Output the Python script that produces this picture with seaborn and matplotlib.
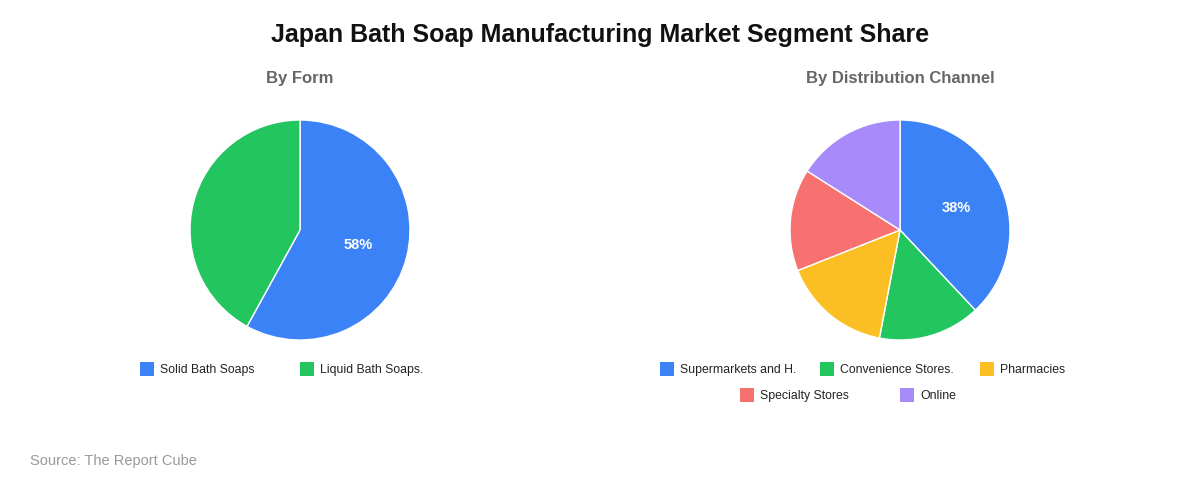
import matplotlib
matplotlib.use("Agg")
import matplotlib.pyplot as plt
import seaborn as sns
from matplotlib.patches import Rectangle

sns.set_theme(style="white")
plt.rcParams['font.family'] = ['Liberation Sans', 'DejaVu Sans']

# Data
form_labels = ["Solid Bath Soaps", "Liquid Bath Soaps."]
form_values = [58, 42]
channel_labels = ["Supermarkets and H.", "Convenience Stores.", "Pharmacies", "Specialty Stores", "Online"]
channel_values = [38, 15, 16, 15, 16]

colors = ["#3b82f6", "#22c55e", "#fbbf24", "#f87171", "#a78bfa"]

W, H = 1200, 480
fig = plt.figure(figsize=(12, 4.8), dpi=100)
fig.patch.set_facecolor("white")

def px(x, y):
    return x / W, 1 - y / H

def draw_pie(cx, values, labels):
    r = 110
    cy = 230
    ax = fig.add_axes([(cx - r) / W, 1 - (cy + r) / H, 2 * r / W, 2 * r / H])
    top = max(values) / sum(values) * 100
    wedges, texts, autotexts = ax.pie(
        values, colors=colors[:len(values)], startangle=90, counterclock=False,
        autopct=lambda p: f"{p:.0f}%" if abs(p - top) < 1e-6 else "",
        pctdistance=0.55,
        wedgeprops=dict(edgecolor="white", linewidth=1),
        textprops=dict(color="white", fontsize=10.5, fontweight="bold"))
    ax.set_xlim(-1, 1)
    ax.set_ylim(-1, 1)
    ax.set_aspect("equal")
    ax.axis("off")
    return ax

draw_pie(300, form_values, form_labels)
draw_pie(900, channel_values, channel_labels)

fig.text(*px(600, 42), "Japan Bath Soap Manufacturing Market Segment Share",
         ha="center", va="baseline", fontsize=18, fontweight="bold", color="#111111")
fig.text(*px(300, 83), "By Form", ha="center", va="baseline",
         fontsize=12, fontweight="bold", color="#666666")
fig.text(*px(900, 83), "By Distribution Channel", ha="center", va="baseline",
         fontsize=12, fontweight="bold", color="#666666")
fig.text(*px(30, 465), "Source: The Report Cube", ha="left", va="baseline",
         fontsize=10.5, color="#999999")

def legend_item(x, y, label, color):
    s = 14
    fig.patches.append(Rectangle(((x) / W, 1 - (y + s / 2) / H), s / W, s / H,
                                 transform=fig.transFigure, facecolor=color,
                                 edgecolor="none", figure=fig))
    fig.text((x + s + 6) / W, 1 - (y - 5) / H, label, ha="left", va="top",
             fontsize=8.8, color="#222222")

# Left legend
for i, lab in enumerate(form_labels):
    legend_item(140 + 160 * i, 369, lab, colors[i])

# Right legend
row1 = [660, 820, 980]
row2 = [740, 900]
for i, lab in enumerate(channel_labels):
    if i < 3:
        legend_item(row1[i], 369, lab, colors[i])
    else:
        legend_item(row2[i - 3], 395, lab, colors[i])

fig.savefig("out.png", dpi=100, facecolor="white")
